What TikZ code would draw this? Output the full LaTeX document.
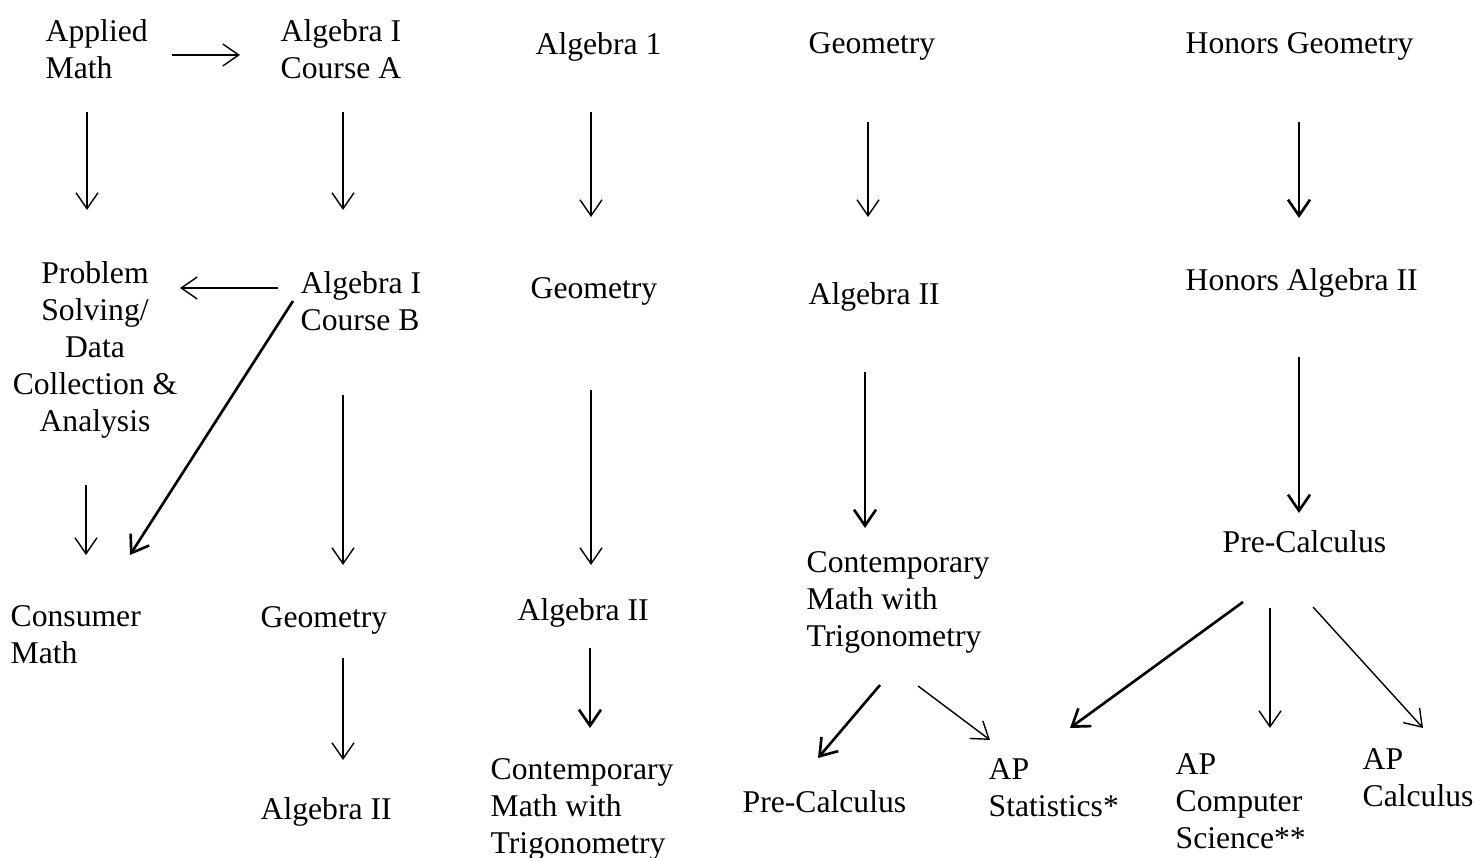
\documentclass[tikz,border=0pt]{standalone}
\usepackage{fontspec}
\setmainfont{Liberation Serif}
\usetikzlibrary{arrows.meta, calc}

\begin{document}
\begin{tikzpicture}[x=0.01cm, y=-0.01cm,
    >={Straight Barb[length=1.6mm, width=2.2mm]},
    font=\fontsize{9pt}{10.5pt}\selectfont,
    course/.style={inner sep=0pt, anchor=north west, align=left},
    link/.style={->, line width=0.4pt},
    boldlink/.style={->, line width=0.75pt}]
    \useasboundingbox (0,0) rectangle (1476,858);

    % first year
    \node[course] (amath) at (45,19) {Applied\\Math};
    \node[course] (algA) at (280,19) {Algebra I\\Course A};
    \node[course] (alg1) at (535,32) {Algebra 1};
    \node[course] (geoTop) at (808,32) {Geometry};
    \node[course] (hgeo) at (1185,32) {Honors Geometry};

    % second year
    \node[inner sep=0pt, anchor=north, align=center] (probsolve) at (95,261) {Problem\\Solving/\\Data\\Collection \&\\Analysis};
    \node[course] (algB) at (300,271) {Algebra I\\Course B};
    \node[course] (geoC3) at (530,277) {Geometry};
    \node[course] (alg2C4) at (808,282) {Algebra II};
    \node[course] (halg2) at (1185,268) {Honors Algebra II};

    % third year
    \node[course] (consumer) at (10,605) {Consumer\\Math};
    \node[course] (geoC2) at (260,606) {Geometry};
    \node[course] (alg2C3) at (517,598) {Algebra II};
    \node[course] (contC4) at (806,551) {Contemporary\\Math with\\Trigonometry};
    \node[course] (precalcR) at (1222,530) {Pre-Calculus};

    % fourth year
    \node[course] (alg2C2) at (260,797) {Algebra II};
    \node[course] (contC3) at (490,758) {Contemporary\\Math with\\Trigonometry};
    \node[course] (precalcC4) at (742,790) {Pre-Calculus};
    \node[course] (apstat) at (988,758) {AP\\Statistics*};
    \node[course] (apcs) at (1175,753) {AP\\Computer\\Science**};
    \node[course] (apcalc) at (1362,748) {AP\\Calculus};

    \draw[link] ($(amath.north west)+(127,36)$) -- ($(algA.north west)+(-40,36)$);
    \draw[link] ($(amath.north west)+(42,93)$) -- ($(probsolve.north)+(-8,-51)$);
    \draw[link] ($(algA.north west)+(63,93)$) -- ($(algB.north west)+(43,-61)$);
    \draw[link] ($(alg1.north west)+(56,80)$) -- ($(geoC3.north west)+(61,-60)$);
    \draw[link] ($(geoTop.north west)+(60,90)$) -- ($(alg2C4.north west)+(60,-65)$);
    \draw[boldlink] ($(hgeo.north west)+(114,90)$) -- ($(halg2.north west)+(114,-50)$);

    \draw[link] ($(algB.north west)+(-22,17)$) -- ($(probsolve.north)+(85,27)$);
    \draw[boldlink] ($(algB.north west)+(-7,30)$) -- ($(consumer.north west)+(120,-50)$);
    \draw[link] ($(probsolve.north)+(-9,224)$) -- ($(consumer.north west)+(76,-50)$);
    \draw[link] ($(algB.north west)+(43,124)$) -- ($(geoC2.north west)+(83,-41)$);
    \draw[link] ($(geoC3.north west)+(61,113)$) -- ($(alg2C3.north west)+(74,-33)$);
    \draw[boldlink] ($(alg2C4.north west)+(57,90)$) -- ($(contC4.north west)+(59,-23)$);
    \draw[boldlink] ($(halg2.north west)+(114,89)$) -- ($(precalcR.north west)+(77,-17)$);

    \draw[link] ($(geoC2.north west)+(83,52)$) -- ($(alg2C2.north west)+(83,-37)$);
    \draw[boldlink] ($(alg2C3.north west)+(73,50)$) -- ($(contC3.north west)+(100,-30)$);
    \draw[boldlink] ($(contC4.north west)+(74,134)$) -- ($(precalcC4.north west)+(76,-32)$);
    \draw[link] ($(contC4.north west)+(112,135)$) -- ($(apstat.north west)+(2,-18)$);
    \draw[boldlink] ($(precalcR.north west)+(21,72)$) -- ($(apstat.north west)+(82,-30)$);
    \draw[link] ($(precalcR.north west)+(48,78)$) -- ($(apcs.north west)+(95,-25)$);
    \draw[link] ($(precalcR.north west)+(91,77)$) -- ($(apcalc.north west)+(61,-20)$);
\end{tikzpicture}
\end{document}
